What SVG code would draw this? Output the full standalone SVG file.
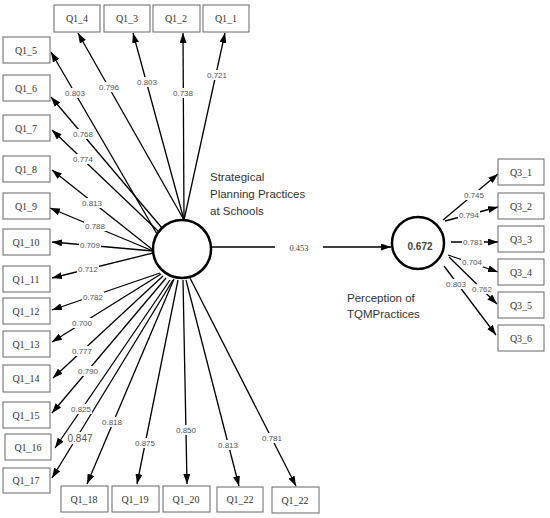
<svg xmlns="http://www.w3.org/2000/svg" width="550" height="518" viewBox="0 0 550 518">
<style>
.box{fill:#fff;stroke:#666;stroke-width:1}
.bt{font-family:"Liberation Serif",serif;font-size:10px;fill:#333;text-anchor:middle}
.ln{stroke:#000;stroke-width:1.3;fill:none;marker-end:url(#ah)}
.lb{font-family:"Liberation Sans",sans-serif;font-size:8px;fill:#555;text-anchor:middle}
.lbg{fill:#fff}
.lat{fill:#fff;stroke:#000;stroke-width:2.5}
.cap{font-family:"Liberation Sans",sans-serif;font-size:11.5px;fill:#333}
</style>
<defs>
<marker id="ah" markerUnits="userSpaceOnUse" markerWidth="10" markerHeight="7" refX="10" refY="3.5" orient="auto">
<path d="M0,0 L10,3.5 L0,7 z" fill="#000"/>
</marker>
</defs>
<g id="connectors">
<line class="ln" x1="184" y1="220" x2="225" y2="33"/>
<line class="ln" x1="184" y1="220" x2="183" y2="33"/>
<line class="ln" x1="184" y1="220" x2="133" y2="33"/>
<line class="ln" x1="184" y1="220" x2="78" y2="33"/>
<line class="ln" x1="157" y1="234" x2="51" y2="52"/>
<line class="ln" x1="162" y1="228" x2="51" y2="97"/>
<line class="ln" x1="158" y1="231" x2="52" y2="130"/>
<line class="ln" x1="153" y1="250" x2="52" y2="170"/>
<line class="ln" x1="153" y1="251" x2="50" y2="208"/>
<line class="ln" x1="153" y1="251" x2="52" y2="242"/>
<line class="ln" x1="153" y1="253" x2="52" y2="278"/>
<line class="ln" x1="160" y1="273" x2="52" y2="310"/>
<line class="ln" x1="161" y1="274" x2="52" y2="342"/>
<line class="ln" x1="163" y1="276" x2="53" y2="378"/>
<line class="ln" x1="166" y1="278" x2="52" y2="413"/>
<line class="ln" x1="170" y1="280" x2="55" y2="448"/>
<line class="ln" x1="173" y1="280" x2="52" y2="478"/>
<line class="ln" x1="174" y1="279" x2="87" y2="484"/>
<line class="ln" x1="178" y1="280" x2="137" y2="484"/>
<line class="ln" x1="183" y1="280" x2="187" y2="484"/>
<line class="ln" x1="186" y1="280" x2="239" y2="486"/>
<line class="ln" x1="190" y1="278" x2="296" y2="486"/>
<line class="ln" x1="212" y1="247" x2="391" y2="247"/>
<line class="ln" x1="443" y1="220" x2="498" y2="174"/>
<line class="ln" x1="445" y1="221" x2="498" y2="207"/>
<line class="ln" x1="451" y1="242" x2="498" y2="242"/>
<line class="ln" x1="448" y1="255" x2="498" y2="272"/>
<line class="ln" x1="449" y1="257" x2="497" y2="304"/>
<line class="ln" x1="444" y1="266" x2="496" y2="335"/>
</g>
<g id="edge-labels">
<rect class="lbg" x="206" y="70" width="22" height="10"/><text class="lb" x="217" y="78">0.721</text>
<rect class="lbg" x="172" y="88" width="22" height="10"/><text class="lb" x="183" y="96">0.738</text>
<rect class="lbg" x="136" y="77" width="22" height="10"/><text class="lb" x="147" y="85">0.803</text>
<rect class="lbg" x="98" y="82" width="22" height="10"/><text class="lb" x="109" y="90">0.796</text>
<rect class="lbg" x="64" y="88" width="22" height="10"/><text class="lb" x="75" y="96">0.803</text>
<rect class="lbg" x="72" y="129" width="22" height="10"/><text class="lb" x="83" y="137">0.768</text>
<rect class="lbg" x="72" y="154" width="22" height="10"/><text class="lb" x="83" y="162">0.774</text>
<rect class="lbg" x="81" y="198" width="22" height="10"/><text class="lb" x="92" y="206">0.813</text>
<rect class="lbg" x="84" y="221" width="22" height="10"/><text class="lb" x="95" y="229">0.788</text>
<rect class="lbg" x="79" y="240" width="22" height="10"/><text class="lb" x="90" y="248">0.709</text>
<rect class="lbg" x="77" y="264" width="22" height="10"/><text class="lb" x="88" y="272">0.712</text>
<rect class="lbg" x="82" y="292" width="22" height="10"/><text class="lb" x="93" y="300">0.782</text>
<rect class="lbg" x="71" y="318" width="22" height="10"/><text class="lb" x="82" y="326">0.700</text>
<rect class="lbg" x="71" y="346" width="22" height="10"/><text class="lb" x="82" y="354">0.777</text>
<rect class="lbg" x="77" y="366" width="22" height="10"/><text class="lb" x="88" y="374">0.790</text>
<rect class="lbg" x="70" y="404" width="22" height="10"/><text class="lb" x="81" y="412">0.825</text>
<rect class="lbg" x="67" y="432" width="26" height="12"/><text class="lb" x="80" y="442" style="font-size:10px">0.847</text>
<rect class="lbg" x="101" y="417" width="22" height="10"/><text class="lb" x="112" y="425">0.818</text>
<rect class="lbg" x="134" y="438" width="22" height="10"/><text class="lb" x="145" y="446">0.875</text>
<rect class="lbg" x="175" y="425" width="22" height="10"/><text class="lb" x="186" y="433">0.850</text>
<rect class="lbg" x="217" y="440" width="22" height="10"/><text class="lb" x="228" y="448">0.813</text>
<rect class="lbg" x="261" y="433" width="22" height="10"/><text class="lb" x="272" y="441">0.781</text>
<rect class="lbg" x="275" y="242" width="48" height="12"/><text x="299" y="251" style="font-family:'Liberation Serif',serif;font-size:8.5px;fill:#444;text-anchor:middle">0.453</text>
<rect class="lbg" x="463" y="190" width="22" height="10"/><text class="lb" x="474" y="198">0.745</text>
<rect class="lbg" x="458" y="210" width="22" height="10"/><text class="lb" x="469" y="218">0.794</text>
<rect class="lbg" x="462" y="237" width="22" height="10"/><text class="lb" x="473" y="245">0.781</text>
<rect class="lbg" x="461" y="257" width="22" height="10"/><text class="lb" x="472" y="265">0.704</text>
<rect class="lbg" x="471" y="284" width="22" height="10"/><text class="lb" x="482" y="292">0.762</text>
<rect class="lbg" x="445" y="279" width="22" height="10"/><text class="lb" x="456" y="287">0.803</text>
</g>
<g id="Q1_4"><rect class="box" x="54" y="5" width="46" height="27"/><text class="bt" x="77" y="22">Q1_4</text></g>
<g id="Q1_3"><rect class="box" x="104" y="5" width="46" height="27"/><text class="bt" x="127" y="22">Q1_3</text></g>
<g id="Q1_2"><rect class="box" x="153" y="5" width="47" height="27"/><text class="bt" x="176" y="22">Q1_2</text></g>
<g id="Q1_1"><rect class="box" x="203" y="5" width="46" height="27"/><text class="bt" x="226" y="22">Q1_1</text></g>
<g id="Q1_5"><rect class="box" x="3" y="37" width="47" height="26"/><text class="bt" x="26" y="54">Q1_5</text></g>
<g id="Q1_6"><rect class="box" x="3" y="75" width="47" height="26"/><text class="bt" x="26" y="92">Q1_6</text></g>
<g id="Q1_7"><rect class="box" x="3" y="115" width="47" height="26"/><text class="bt" x="26" y="132">Q1_7</text></g>
<g id="Q1_8"><rect class="box" x="3" y="156" width="47" height="26"/><text class="bt" x="26" y="173">Q1_8</text></g>
<g id="Q1_9"><rect class="box" x="3" y="193" width="47" height="26"/><text class="bt" x="26" y="210">Q1_9</text></g>
<g id="Q1_10"><rect class="box" x="3" y="229" width="47" height="26"/><text class="bt" x="26" y="246">Q1_10</text></g>
<g id="Q1_11"><rect class="box" x="3" y="266" width="47" height="26"/><text class="bt" x="26" y="283">Q1_11</text></g>
<g id="Q1_12"><rect class="box" x="3" y="298" width="47" height="26"/><text class="bt" x="26" y="315">Q1_12</text></g>
<g id="Q1_13"><rect class="box" x="3" y="331" width="47" height="26"/><text class="bt" x="26" y="348">Q1_13</text></g>
<g id="Q1_14"><rect class="box" x="3" y="365" width="47" height="27"/><text class="bt" x="26" y="382">Q1_14</text></g>
<g id="Q1_15"><rect class="box" x="3" y="402" width="47" height="26"/><text class="bt" x="26" y="419">Q1_15</text></g>
<g id="Q1_16"><rect class="box" x="5" y="434" width="46" height="26"/><text class="bt" x="28" y="451">Q1_16</text></g>
<g id="Q1_17"><rect class="box" x="3" y="468" width="47" height="25"/><text class="bt" x="26" y="484">Q1_17</text></g>
<g id="Q1_18"><rect class="box" x="61" y="486" width="47" height="26"/><text class="bt" x="84" y="503">Q1_18</text></g>
<g id="Q1_19"><rect class="box" x="112" y="486" width="47" height="26"/><text class="bt" x="135" y="503">Q1_19</text></g>
<g id="Q1_20"><rect class="box" x="163" y="486" width="47" height="26"/><text class="bt" x="186" y="503">Q1_20</text></g>
<g id="Q1_22a"><rect class="box" x="217" y="487" width="46" height="25"/><text class="bt" x="240" y="503">Q1_22</text></g>
<g id="Q1_22b"><rect class="box" x="272" y="487" width="47" height="26"/><text class="bt" x="295" y="504">Q1_22</text></g>
<g id="Q3_1"><rect class="box" x="498" y="159" width="46" height="26"/><text class="bt" x="521" y="176">Q3_1</text></g>
<g id="Q3_2"><rect class="box" x="498" y="193" width="46" height="26"/><text class="bt" x="521" y="210">Q3_2</text></g>
<g id="Q3_3"><rect class="box" x="498" y="226" width="46" height="26"/><text class="bt" x="521" y="243">Q3_3</text></g>
<g id="Q3_4"><rect class="box" x="498" y="259" width="46" height="26"/><text class="bt" x="521" y="276">Q3_4</text></g>
<g id="Q3_5"><rect class="box" x="498" y="292" width="46" height="26"/><text class="bt" x="521" y="309">Q3_5</text></g>
<g id="Q3_6"><rect class="box" x="498" y="325" width="46" height="26"/><text class="bt" x="521" y="342">Q3_6</text></g>
<g id="strategical-planning">
<circle class="lat" cx="182" cy="249" r="29"/>
<text class="cap" x="210" y="181">Strategical</text>
<text class="cap" x="210" y="198">Planning Practices</text>
<text class="cap" x="210" y="215">at Schools</text>
</g>
<g id="tqm-perception">
<circle class="lat" cx="418" cy="243" r="26"/>
<text x="420" y="250" style="font-family:'Liberation Sans',sans-serif;font-size:10px;font-weight:bold;fill:#444;text-anchor:middle">0.672</text>
<text class="cap" x="347" y="302">Perception of</text>
<text class="cap" x="347" y="318">TQMPractices</text>
</g>
</svg>
